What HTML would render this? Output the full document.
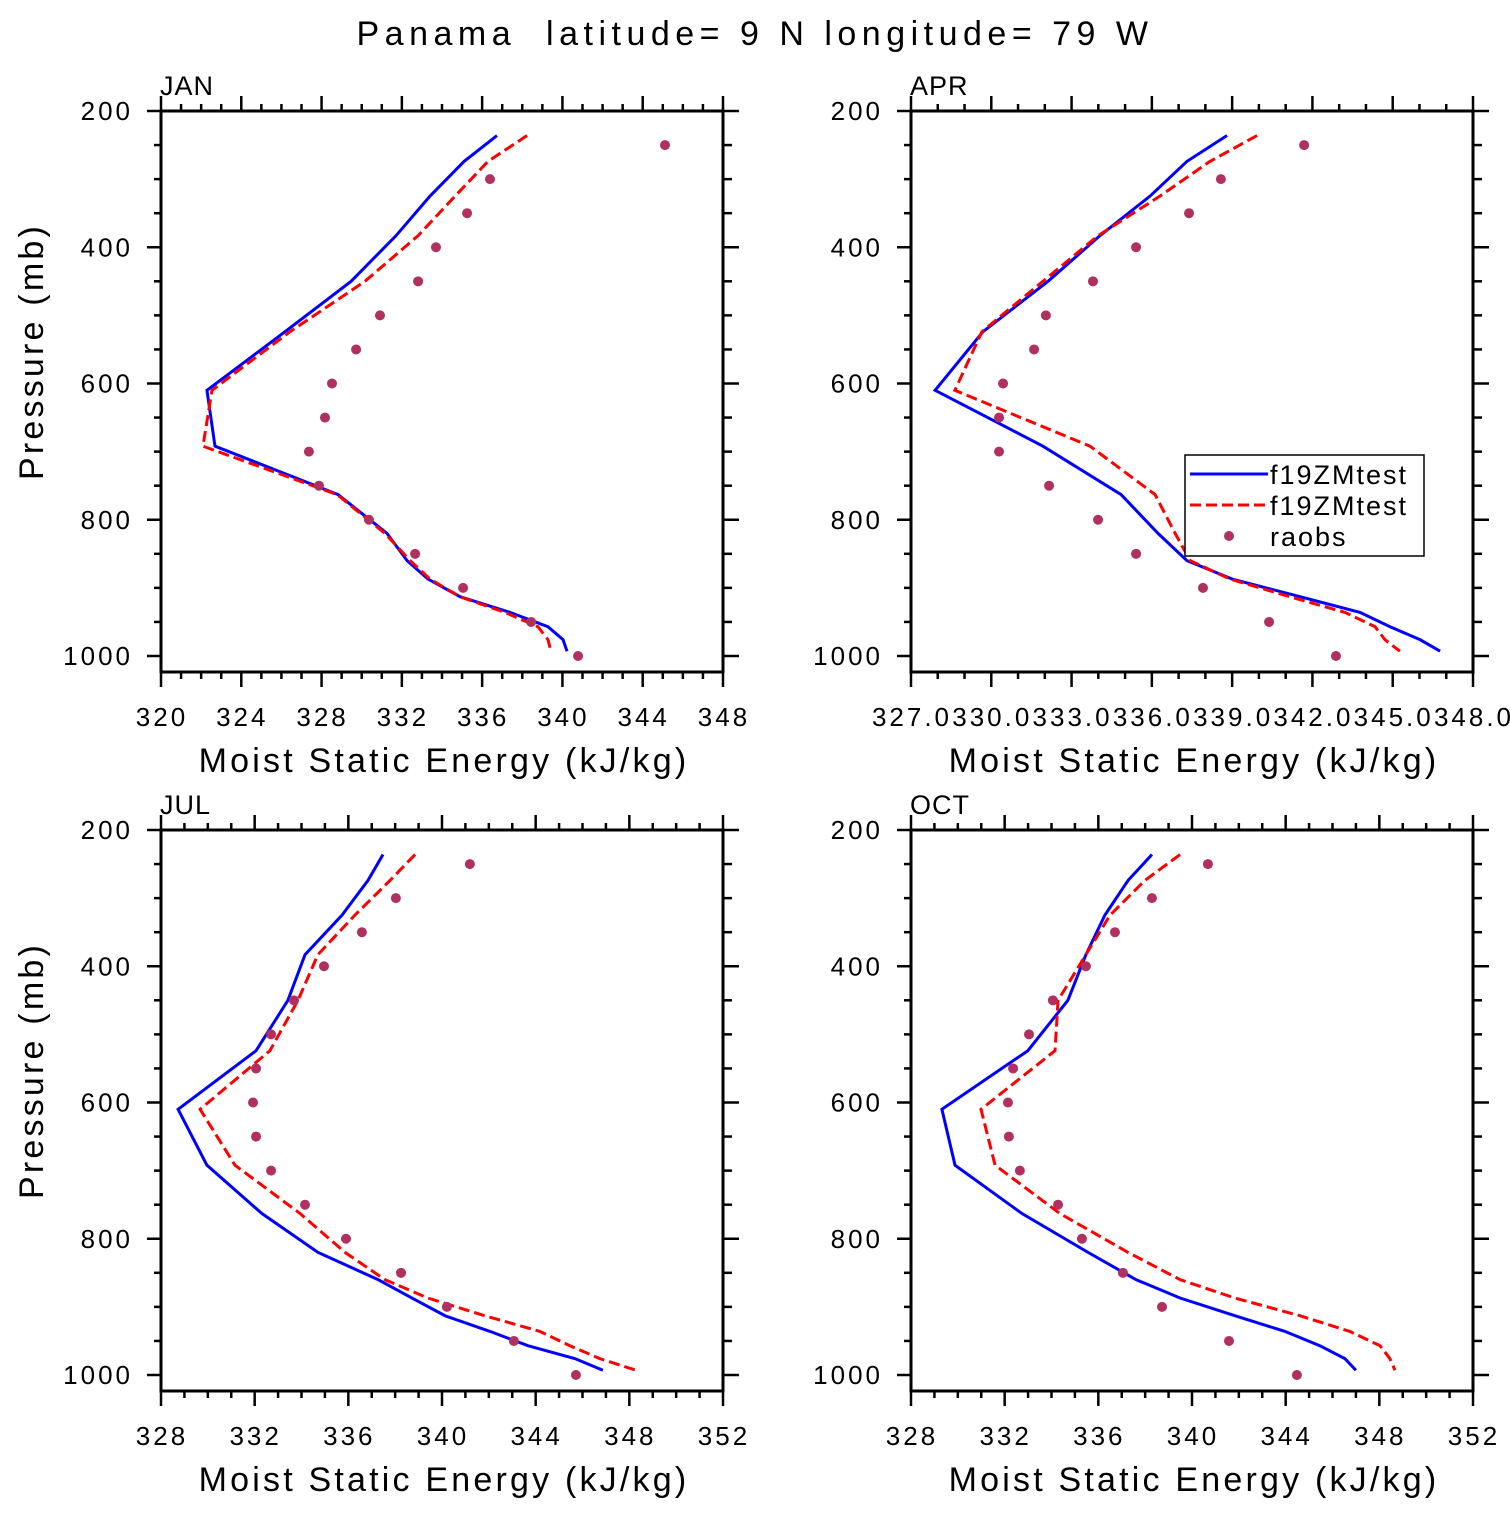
<!DOCTYPE html>
<html><head><meta charset="utf-8"><style>
body{margin:0;background:#fff}
svg text{font-family:"Liberation Sans",sans-serif;fill:#000;white-space:pre}
</style></head><body>
<svg id="c" width="1510" height="1510" viewBox="0 0 1510 1510" xmlns="http://www.w3.org/2000/svg">
<text x="755" y="45" font-size="34" text-anchor="middle" letter-spacing="5.5">Panama  latitude= 9 N longitude= 79 W</text>
</svg>
<script>
const obsP=[250,300,350,400,450,500,550,600,650,700,750,800,850,900,950,1000];
const modP=[236,274,325,383,450,524,610,692,763,820,860,887,913,936,957,976,993];
const janObs=[345.11,336.39,335.25,333.70,332.81,330.91,329.72,328.52,328.17,327.37,327.87,330.36,332.66,335.05,338.44,340.78];
const janBlue=[336.74,335.10,333.40,331.71,329.47,326.18,322.29,322.69,328.82,331.26,332.26,333.30,334.90,337.39,339.28,340.03,340.23];
const janRed=[338.24,336.29,334.65,332.81,330.16,326.43,322.54,322.09,328.77,331.16,332.41,333.40,334.90,337.14,338.78,339.28,339.43];
const aprObs=[341.69,338.58,337.39,335.41,333.80,332.04,331.60,330.44,330.29,330.29,332.16,333.99,335.41,337.91,340.38,342.88];
const aprBlue=[338.81,337.31,335.93,334.06,332.12,329.69,327.90,331.93,334.85,336.23,337.31,339.0,341.54,343.78,344.9,346.02,346.77];
const aprRed=[339.93,338.17,336.30,333.99,331.93,329.65,328.64,333.69,336.12,336.87,337.43,338.92,341.16,343.22,344.34,344.71,345.27];
const julObs=[341.19,338.03,336.58,334.96,333.68,332.70,332.06,331.93,332.06,332.70,334.15,335.90,338.25,340.21,343.07,345.72];
const julBlue=[337.48,336.84,335.73,334.15,333.42,332.06,328.73,329.96,332.31,334.70,337.27,338.72,340.13,342.05,343.67,345.68,346.87];
const julRed=[338.85,337.78,336.28,334.70,333.85,332.65,329.67,331.16,333.94,335.86,337.56,339.40,341.83,344.18,345.46,346.74,348.28];
const octObs=[340.68,338.29,336.71,335.47,334.06,333.04,332.36,332.14,332.18,332.65,334.28,335.30,337.05,338.72,341.58,344.48];
const octBlue=[338.29,337.27,336.28,335.47,334.70,332.99,329.32,329.88,332.74,335.56,337.61,339.49,341.83,343.97,345.46,346.53,347.0];
const octRed=[339.49,337.99,336.50,335.47,334.28,334.15,330.99,331.59,334.36,337.27,339.49,341.83,344.61,346.74,348.03,348.45,348.67];
const pTicks=[200,400,600,800,1000];
const janTicks=[320,324,328,332,336,340,344,348];
const aprTicks=[327,330,333,336,339,342,345,348];
const julTicks=[328,332,336,340,344,348,352];

const svg=document.getElementById('c');
const NS='http://www.w3.org/2000/svg';
function mk(tag,attrs,parent){const e=document.createElementNS(NS,tag);for(const k in attrs)e.setAttribute(k,attrs[k]);(parent||svg).appendChild(e);return e;}

function panel(id,title,x0,y0,xmin,xmax,xt,xfmt,minorStep,obs,blue,red,showY,legend){
  const W=562,H=561,pxmb=545/800;
  const g=mk('g',{});
  
  
  const X=v=>x0+(v-xmin)/(xmax-xmin)*W;
  const Y=p=>y0+(p-200)*pxmb;
  const t=mk('text',{x:x0-1,y:y0-16,'font-size':27,'letter-spacing':'1'},g);t.textContent=title;
  
  
  for(let p=200;p<=1000;p+=50){const maj=p%200===0;const L=maj?14:7;
    mk('line',{x1:x0-L,y1:Y(p),x2:x0,y2:Y(p),stroke:'#000','stroke-width':2.5},g);
    mk('line',{x1:x0+W,y1:Y(p),x2:x0+W+L+2,y2:Y(p),stroke:'#000','stroke-width':2.5},g);}
  pTicks.forEach(p=>{const tt=mk('text',{x:x0-28,y:Y(p)+9,'font-size':26,'text-anchor':'end','letter-spacing':'3'},g);tt.textContent=p;
    
    });
  for(let v=xmin;v<=xmax+1e-6;v+=minorStep){const maj=xt.some(q=>Math.abs(q-v)<1e-6);const L=maj?15:7;
    mk('line',{x1:X(v),y1:y0,x2:X(v),y2:y0-L,stroke:'#000','stroke-width':2.5},g);
    mk('line',{x1:X(v),y1:y0+H,x2:X(v),y2:y0+H+L,stroke:'#000','stroke-width':2.5},g);}
  xt.forEach(v=>{const tt=mk('text',{x:X(v)+1,y:y0+H+54,'font-size':26,'text-anchor':'middle','letter-spacing':'3'},g);tt.textContent=xfmt(v);
    
    });
  mk('rect',{x:x0,y:y0,width:W,height:H,fill:'none',stroke:'#000','stroke-width':3},g);
  const xl=mk('text',{x:x0+W/2+2,y:y0+H+100,'font-size':34,'text-anchor':'middle','letter-spacing':'3.2'},g);xl.textContent='Moist Static Energy (kJ/kg)';
  
  
  if(showY){const yl=mk('text',{x:0,y:0,'font-size':34,'text-anchor':'middle','letter-spacing':'3.2',transform:`translate(${x0-118},${y0+H/2-40}) rotate(-90)`},g);yl.textContent='Pressure (mb)';
    
    }
  const bl=mk('polyline',{points:blue.map((v,i)=>X(v)+','+Y(modP[i])).join(' '),fill:'none',stroke:'#0000ff','stroke-width':3},g);
  
  
  const rl=mk('polyline',{points:red.map((v,i)=>X(v)+','+Y(modP[i])).join(' '),fill:'none',stroke:'#ff0000','stroke-width':3,'stroke-dasharray':'11,5'},g);
  
  
  obs.forEach((v,i)=>{const c=mk('circle',{cx:X(v),cy:Y(obsP[i]),r:5,fill:'#b03060'},g);
    
    });
  if(legend){const lg=mk('g',{},g);
    
    
    mk('rect',{x:1185,y:455,width:239,height:101,fill:'#fff',stroke:'#000','stroke-width':1.5},lg);
    mk('line',{x1:1190,y1:474,x2:1268,y2:474,stroke:'#0000ff','stroke-width':3},lg);
    mk('line',{x1:1190,y1:505,x2:1268,y2:505,stroke:'#ff0000','stroke-width':3,'stroke-dasharray':'11,5'},lg);
    mk('circle',{cx:1229,cy:536,r:5,fill:'#b03060'},lg);
    [['f19ZMtest',484],['f19ZMtest',515],['raobs',546]].forEach(([s,y])=>{const tt=mk('text',{x:1270,y:y,'font-size':27,'letter-spacing':'2'},lg);tt.textContent=s;
      
      });
  }
}
const fi=v=>String(v), f1=v=>v.toFixed(1);
panel('jan','JAN',161,111,320,348,janTicks,fi,1,janObs,janBlue,janRed,true,false);
panel('apr','APR',911,111,327,348,aprTicks,f1,1,aprObs,aprBlue,aprRed,false,true);
panel('jul','JUL',161,830,328,352,julTicks,fi,1,julObs,julBlue,julRed,true,false);
panel('oct','OCT',911,830,328,352,julTicks,fi,1,octObs,octBlue,octRed,false,false);
</script>
</body></html>
